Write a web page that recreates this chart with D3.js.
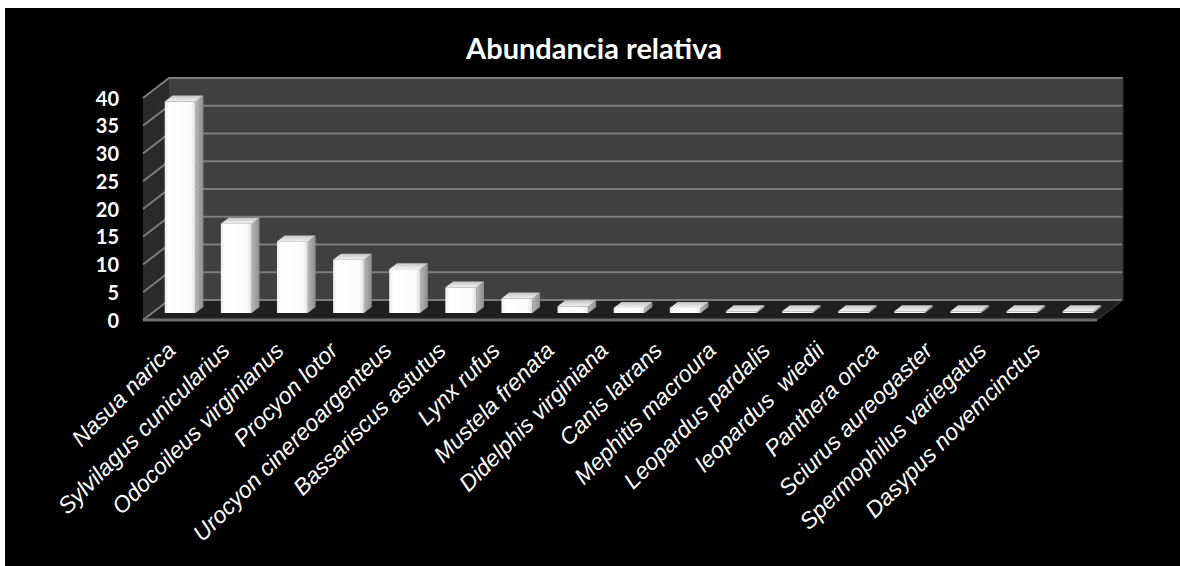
<!DOCTYPE html>
<html>
<head>
<meta charset="utf-8">
<script src="https://cdn.jsdelivr.net/npm/d3@7/dist/d3.min.js"></script>
<style>
  html, body { margin: 0; padding: 0; background: #ffffff; }
  svg { display: block; }
</style>
</head>
<body>
<svg id="chart" width="1180" height="566"></svg>
<script>
// ---- data ----
const categories = [
  "Nasua narica", "Sylvilagus cunicularius", "Odocoileus virginianus", "Procyon lotor",
  "Urocyon cinereoargenteus", "Bassariscus astutus", "Lynx rufus", "Mustela frenata",
  "Didelphis virginiana", "Canis latrans", "Mephitis macroura", "Leopardus pardalis",
  "leopardus  wiedii", "Panthera onca", "Sciurus aureogaster", "Spermophilus variegatus",
  "Dasypus novemcinctus"
];
const values = [38.1, 16.1, 12.9, 9.6, 7.9, 4.6, 2.6, 1.2, 0.9, 0.9, 0.3, 0.3, 0.3, 0.3, 0.3, 0.3, 0.3];
const yTicks = [0, 5, 10, 15, 20, 25, 30, 35, 40];
const title = "Abundancia relativa";

// ---- layout ----
const svg = d3.select("#chart");
const W = 1180, H = 566;
const depthX = 26, depthY = -20;          // full-depth projection offset
const barD0 = 0.35, barD1 = 0.65;         // bar depth span (fraction)
const x = d3.scaleBand().domain(categories).range([143, 1097]).paddingInner(0.45).paddingOuter(0.225);
const y = d3.scaleLinear().domain([0, 40]).range([320, 98]);
const xl = d3.scalePoint().domain(categories).range([177, 1042]);
const P = (px, py, d) => [px + depthX * d, py + depthY * d];

// defs
const defs = svg.append("defs");
const gFront = defs.append("linearGradient").attr("id", "gFront").attr("x1", 0).attr("x2", 1).attr("y1", 0).attr("y2", 0);
gFront.append("stop").attr("offset", "0").attr("stop-color", "#e9e9e9");
gFront.append("stop").attr("offset", "0.12").attr("stop-color", "#ffffff");
gFront.append("stop").attr("offset", "0.85").attr("stop-color", "#fbfbfb");
gFront.append("stop").attr("offset", "1").attr("stop-color", "#dedede");
const gSide = defs.append("linearGradient").attr("id", "gSide").attr("x1", 0).attr("x2", 1).attr("y1", 0).attr("y2", 0);
gSide.append("stop").attr("offset", "0").attr("stop-color", "#b8b8b8");
gSide.append("stop").attr("offset", "1").attr("stop-color", "#8c8c8c");
const gTop = defs.append("linearGradient").attr("id", "gTop").attr("x1", 0).attr("x2", 0).attr("y1", 1).attr("y2", 0);
gTop.append("stop").attr("offset", "0").attr("stop-color", "#f2f2f2");
gTop.append("stop").attr("offset", "1").attr("stop-color", "#c4c4c4");

// background
svg.append("rect").attr("x", 5).attr("y", 8).attr("width", W - 5).attr("height", H - 8).attr("fill", "#000000");

const line = d3.line();
const x0 = x.range()[0], x1 = x.range()[1];

// back wall
svg.append("path")
  .attr("d", line([P(x0, y(40), 1), P(x1, y(40), 1), P(x1, y(0), 1), P(x0, y(0), 1)]) + "Z")
  .attr("fill", "#404040");
// left wall
svg.append("path")
  .attr("d", line([P(x0, y(40), 0), P(x0, y(40), 1), P(x0, y(0), 1), P(x0, y(0), 0)]) + "Z")
  .attr("fill", "#2a2a2a");
// floor
svg.append("path")
  .attr("d", line([P(x0, y(0), 0), P(x0, y(0), 1), P(x1, y(0), 1), P(x1, y(0), 0)]) + "Z")
  .attr("fill", "#1f1f1f");

// gridlines
const grid = svg.append("g");
yTicks.forEach(t => {
  grid.append("path")
    .attr("d", line([P(x0, y(t), 0), P(x0, y(t), 1), P(x1, y(t), 1)]))
    .attr("fill", "none").attr("stroke", "#7c7c7c").attr("stroke-width", 2);
});
grid.append("path").attr("d", line([P(x1, y(40), 1), P(x1, y(0), 1)]))
  .attr("stroke", "#2e2e2e").attr("stroke-width", 1.5);
grid.append("path").attr("d", line([P(x0, y(0), 0), P(x1, y(0), 0)]))
  .attr("stroke", "#6e6e6e").attr("stroke-width", 3);
grid.append("path").attr("d", line([P(x1, y(0), 0), P(x1, y(0), 1)]))
  .attr("stroke", "#333333").attr("stroke-width", 1.5);

// bars
const bars = svg.append("g").selectAll("g").data(categories).join("g");
bars.each(function(c, i) {
  const g = d3.select(this);
  const bx = x(c), bw = x.bandwidth();
  const yt = y(values[i]), yb = y(0);
  const f = P(bx, yt, barD0);
  const fb = P(bx, yb, barD0);
  g.append("path")
    .attr("d", line([P(bx + bw, yt, barD0), P(bx + bw, yt, barD1), P(bx + bw, yb, barD1), P(bx + bw, yb, barD0)]) + "Z")
    .attr("fill", "url(#gSide)");
  g.append("rect")
    .attr("x", f[0]).attr("y", f[1]).attr("width", bw).attr("height", Math.max(fb[1] - f[1], 0.5))
    .attr("fill", "url(#gFront)");
  g.append("path")
    .attr("d", line([P(bx, yt, barD0), P(bx, yt, barD1), P(bx + bw, yt, barD1), P(bx + bw, yt, barD0)]) + "Z")
    .attr("fill", "url(#gTop)");
});

// y tick labels
svg.append("g").selectAll("text").data(yTicks).join("text")
  .attr("x", 119).attr("y", d => y(d) + 2.5)
  .attr("text-anchor", "end").attr("dominant-baseline", "middle")
  .attr("font-family", "Lato, 'Open Sans', sans-serif").attr("font-weight", "bold")
  .attr("font-size", 20).attr("fill", "#ffffff")
  .text(d => d);

// category labels
svg.append("g").selectAll("text").data(categories).join("text")
  .attr("transform", c => `translate(${xl(c)},352) rotate(-45)`)
  .attr("text-anchor", "end")
  .attr("font-family", "'Liberation Sans', Arial, sans-serif").attr("font-style", "italic")
  .attr("font-size", 23).attr("fill", "#ffffff")
  .style("white-space", "pre")
  .attr("xml:space", "preserve")
  .text(c => c);

// title
svg.append("text")
  .attr("x", 594).attr("y", 59)
  .attr("text-anchor", "middle")
  .attr("font-family", "Lato, 'Open Sans', sans-serif").attr("font-weight", "bold")
  .attr("font-size", 29).attr("fill", "#ffffff")
  .text(title);
</script>
</body>
</html>
